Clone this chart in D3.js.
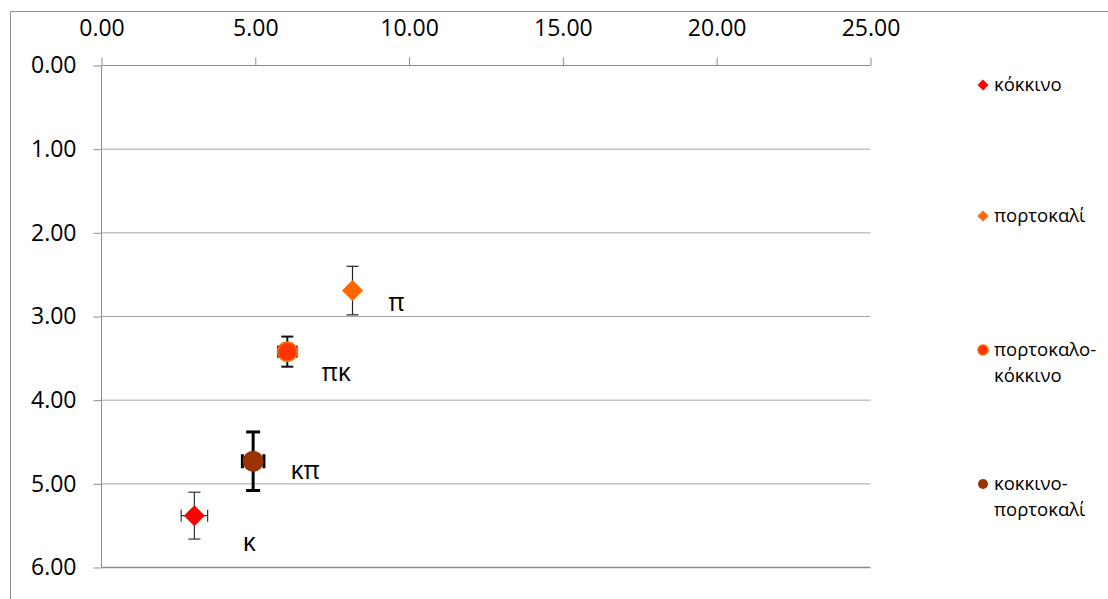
<!DOCTYPE html>
<html>
<head>
<meta charset="utf-8">
<script src="https://cdn.jsdelivr.net/npm/d3@7"></script>
<style>
  html, body { margin: 0; padding: 0; background: #fff; }
  svg { display: block; font-family: "Open Sans", "Noto Sans", sans-serif; }
</style>
</head>
<body>
<svg id="chart" width="1108" height="599"></svg>
<script>
// Series (colour mixes) with mean position and spread
const seriesNames = ["κόκκινο", "πορτοκαλί", "πορτοκαλο-κόκκινο", "κοκκινο-πορτοκαλί"];
const legendLines = [["κόκκινο"], ["πορτοκαλί"], ["πορτοκαλο-", "κόκκινο"], ["κοκκινο-", "πορτοκαλί"]];
const pointLabels = ["κ", "π", "πκ", "κπ"];
const xValues = [3.02, 8.16, 6.04, 4.93];
const yValues = [5.38, 2.69, 3.42, 4.73];
const xErrors = [0.43, 0.0, 0.30, 0.35];
const yErrors = [0.28, 0.29, 0.18, 0.35];
const xTicks = [0, 5, 10, 15, 20, 25];
const yTicks = [0, 1, 2, 3, 4, 5, 6];

const markerShapes = ["diamond", "diamond", "circle", "circle"];
const fillColors = ["#ff0000", "#ff6600", "#ff3300", "#993300"];
const strokeColors = ["#ff0000", "#ff6600", "#ff6600", "#993300"];
const errWidths = [1.2, 1.2, 2, 3];
const errColors = ["#333", "#222", "#111", "#000"];

const svg = d3.select("#chart");

// outer frame (right and bottom edges fall outside the view)
svg.append("path")
  .attr("d", "M10.5,1200 L10.5,11.5 L1300,11.5")
  .attr("fill", "none").attr("stroke", "#8c8c8c").attr("stroke-width", 1);

const x = d3.scaleLinear().domain([0, 25]).range([101.5, 870.5]);
const y = d3.scaleLinear().domain([0, 6]).range([65.5, 567.5]);

// horizontal gridlines
svg.append("g").selectAll("line").data(yTicks.slice(1))
  .join("line")
  .attr("x1", x(0)).attr("x2", x(25))
  .attr("y1", d => y(d)).attr("y2", d => y(d))
  .attr("stroke", d => d === 6 ? "#8c8c8c" : "#a6a6a6").attr("stroke-width", d => d === 6 ? 1.3 : 1);

// top x axis
const xAxis = d3.axisTop(x).tickValues(xTicks).tickFormat(d3.format(".2f")).tickSize(8).tickPadding(22);
const gx = svg.append("g").attr("transform", `translate(0,${y(0)})`).call(xAxis);
gx.select(".domain").attr("stroke", "#8c8c8c").attr("d", `M${x(0)},0H${x(25)}`);
gx.selectAll(".tick line").attr("stroke", "#8c8c8c");
gx.selectAll(".tick text").attr("font-size", 23).attr("fill", "#000")
  .attr("font-family", "'Open Sans', sans-serif");

// left y axis (values grow downward)
const yAxis = d3.axisLeft(y).tickValues(yTicks).tickFormat(d3.format(".2f")).tickSize(8).tickPadding(17);
const gy = svg.append("g").attr("transform", `translate(${x(0)},0)`).call(yAxis);
gy.select(".domain").attr("stroke", "#8c8c8c").attr("d", `M0,${y(0)}V${y(6)}`);
gy.selectAll(".tick line").attr("stroke", "#8c8c8c");
gy.selectAll(".tick text").attr("font-size", 23).attr("fill", "#000")
  .attr("font-family", "'Open Sans', sans-serif");

const data = seriesNames.map((name, i) => ({
  name, i, x: xValues[i], y: yValues[i], ex: xErrors[i], ey: yErrors[i],
  label: pointLabels[i]
}));

// error bars
const capHalf = [6, 6, 6, 7];
const eb = svg.append("g");
data.forEach(d => {
  const g = eb.append("g").attr("stroke", errColors[d.i]).attr("stroke-width", errWidths[d.i]).attr("fill", "none");
  const cx = x(d.x), cy = y(d.y), c = capHalf[d.i];
  if (d.ey > 0) {
    g.append("line").attr("x1", cx).attr("x2", cx).attr("y1", y(d.y - d.ey)).attr("y2", y(d.y + d.ey));
    g.append("line").attr("x1", cx - c).attr("x2", cx + c).attr("y1", y(d.y - d.ey)).attr("y2", y(d.y - d.ey));
    g.append("line").attr("x1", cx - c).attr("x2", cx + c).attr("y1", y(d.y + d.ey)).attr("y2", y(d.y + d.ey));
  }
  if (d.ex > 0) {
    g.append("line").attr("x1", x(d.x - d.ex)).attr("x2", x(d.x + d.ex)).attr("y1", cy).attr("y2", cy);
    g.append("line").attr("x1", x(d.x - d.ex)).attr("x2", x(d.x - d.ex)).attr("y1", cy - c).attr("y2", cy + c);
    g.append("line").attr("x1", x(d.x + d.ex)).attr("x2", x(d.x + d.ex)).attr("y1", cy - c).attr("y2", cy + c);
  }
});

// markers
const markerSizes = [10.5, 10.5, 9.5, 10.5];
function markerPath(shape, r) {
  if (shape === "diamond") return `M0,${-r}L${r},0L0,${r}L${-r},0Z`;
  return d3.arc()({ innerRadius: 0, outerRadius: r, startAngle: 0, endAngle: 2 * Math.PI });
}
svg.append("g").selectAll("path").data(data).join("path")
  .attr("transform", d => `translate(${x(d.x)},${y(d.y)})`)
  .attr("d", d => markerPath(markerShapes[d.i], markerSizes[d.i]))
  .attr("fill", d => fillColors[d.i])
  .attr("stroke", d => strokeColors[d.i])
  .attr("stroke-width", d => d.i === 2 ? 2 : 0);

// point labels
const labelDx = [55, 44, 49, 52];
const labelDy = [35, 20, 29, 18];
svg.append("g").selectAll("text").data(data).join("text")
  .attr("x", d => x(d.x) + labelDx[d.i])
  .attr("y", d => y(d.y) + labelDy[d.i])
  .attr("text-anchor", "middle")
  .attr("font-size", 25).attr("fill", "#000")
  .text(d => d.label);

// legend
const legendY = [85, 216, 350, 484];
const leg = svg.append("g");
data.forEach(d => {
  const gy0 = legendY[d.i];
  const r = markerShapes[d.i] === "diamond" ? 5.5 : 5;
  leg.append("path")
    .attr("transform", `translate(983,${gy0})`)
    .attr("d", markerPath(markerShapes[d.i], r))
    .attr("fill", fillColors[d.i])
    .attr("stroke", strokeColors[d.i]).attr("stroke-width", d.i === 2 ? 1.5 : 0);
  const t = leg.append("text").attr("x", 994).attr("y", gy0 + 6)
    .attr("font-size", 18.5).attr("fill", "#000");
  legendLines[d.i].forEach((line, k) => {
    t.append("tspan").attr("x", 994).attr("dy", k === 0 ? 0 : 26).text(line);
  });
});
</script>
</body>
</html>
